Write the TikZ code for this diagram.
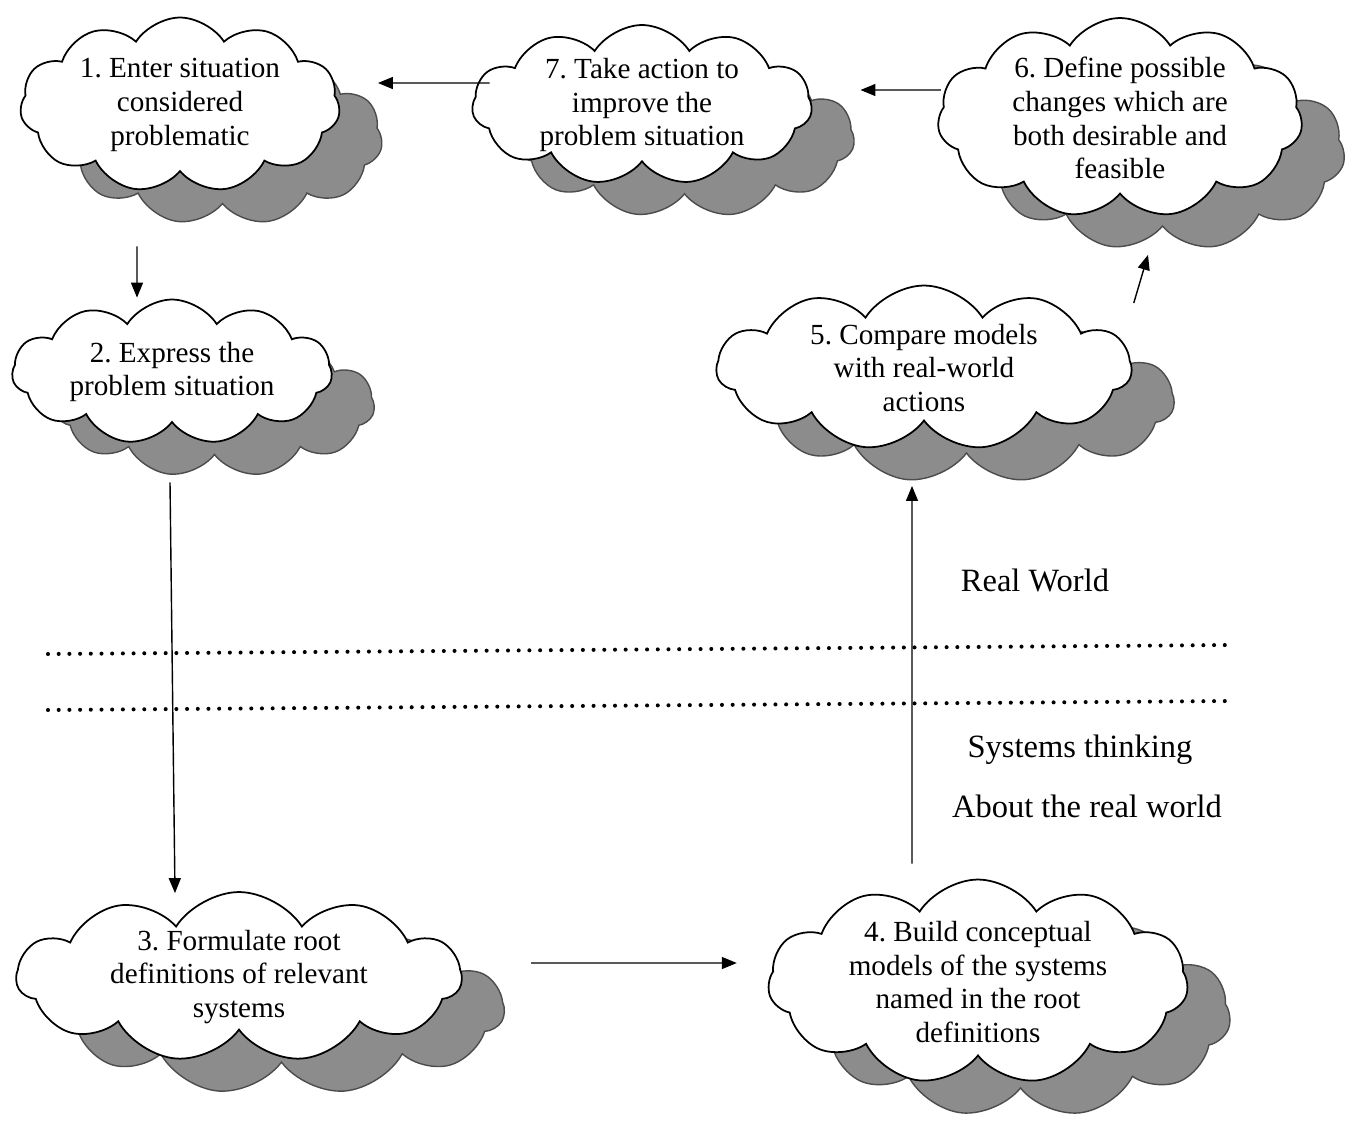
\documentclass[tikz,border=0pt]{standalone}
\usepackage{fontspec}
\setmainfont{Liberation Serif}
\usetikzlibrary{positioning,arrows.meta,shapes.symbols,shadows,calc}

\begin{document}
\begin{tikzpicture}[
  x=0.02cm, y=-0.02cm,
  font=\fontsize{16.6}{19.3}\selectfont\frenchspacing,
  cld/.style={cloud, cloud puffs=11, cloud puff arc=115, cloud ignores aspect,
    draw, line width=1pt, fill=white, align=center,
    inner xsep=-0.4cm, inner ysep=-0.6cm,
    drop shadow={shadow xshift=0.85cm, shadow yshift=-0.65cm,
      fill=black!45, draw=black!70, line width=0.8pt, opacity=1}},
  lbl/.style={align=center, font=\fontsize{18.5}{22}\selectfont},
  arr/.style={-{Triangle[length=3mm, width=2.4mm]}, line width=0.8pt},
  sep/.style={line width=2.3pt, line cap=round, dash pattern=on 0pt off 0.214cm}
]
\useasboundingbox (0,0) rectangle (1362,1120);
% real world / systems thinking divide
\draw[sep] (48,654) -- (1230,645);
\draw[sep] (48,710) -- (1230,701);
\node[cld, minimum width=6.4cm, minimum height=3.5cm] (c1) at (180,105)
  {1. Enter situation\\considered\\problematic};
\node[cld, minimum width=6.8cm, minimum height=3.2cm] (c7) at (642,105)
  {7. Take action to\\improve the\\problem situation};
\node[cld, minimum width=7.3cm, minimum height=4.0cm] (c6) at (1120,118)
  {6. Define possible\\changes which are\\both desirable and\\feasible};
\node[cld, minimum width=6.4cm, minimum height=2.9cm] (c2) at (172,372)
  {2. Express the\\problem situation};
\node[cld, minimum width=8.3cm, minimum height=3.3cm] (c5) at (924,368)
  {5. Compare models\\with real-world\\actions};
\node[cld, minimum width=8.9cm, minimum height=3.4cm] (c3) at (239,977)
  {3. Formulate root\\definitions of relevant\\systems};
\node[cld, minimum width=8.4cm, minimum height=4.1cm] (c4) at (978,982)
  {4. Build conceptual\\models of the systems\\named in the root\\definitions};
\node[lbl] (rw) at (1035,580) {Real World};
\node[lbl] (st) at (1080,750) {Systems thinking};
\node[lbl] (ab) at (1087,806) {About the real world};
\draw[arr] ($(c7.west)+(18,-22)$) -- ($(c1.east)+(38,-22)$);
\draw[arr] ($(c6.west)+(3,-28)$) -- ($(c7.east)+(48,-15)$);
\draw[arr] ($(c1.south)+(-43,74)$) -- ($(c2.north)+(-35,-1)$);
\draw[arr] ($(c2.south)+(-2,59)$) -- ($(c3.north)+(-64,2)$);
\draw[arr] ($(c3.east)+(68,-14)$) -- ($(c4.west)+(-31,-19)$);
\draw[arr] ($(c4.north)+(-66,-15)$) -- ($(c5.south)+(-12,64)$);
\draw[arr] ($(c5.east)+(1,-65)$) -- ($(c6.south)+(28,60)$);
\end{tikzpicture}
\end{document}
